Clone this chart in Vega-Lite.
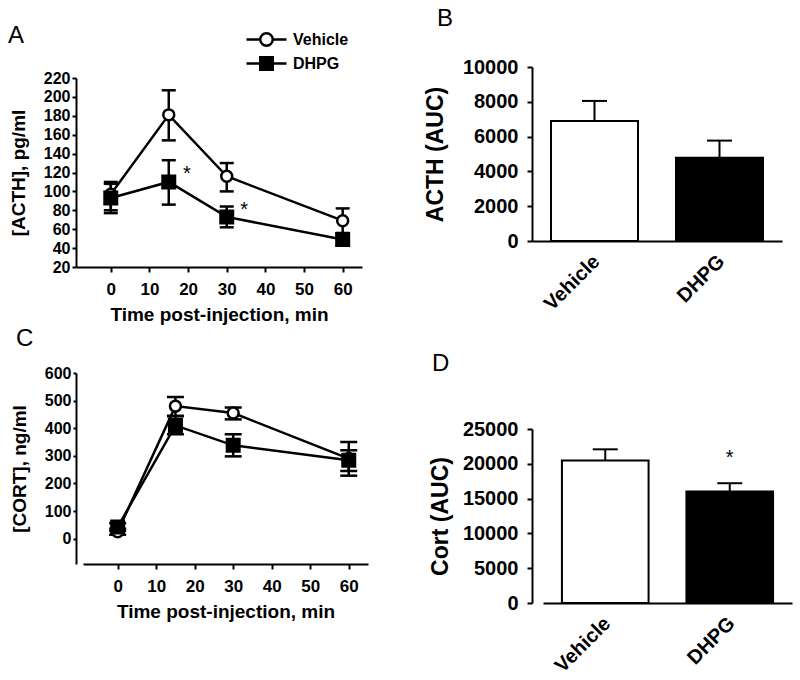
{
  "$schema": "https://vega.github.io/schema/vega-lite/v6.json",
  "autosize": {"type": "none"},
  "padding": {"left": 76, "top": 67, "right": 724, "bottom": 613},
  "background": "white",
  "columns": 2,
  "align": "none",
  "bounds": "flush",
  "spacing": {"row": 106, "column": 159},
  "datasets": {
    "acth": [
      {"group": "Vehicle", "time": 0, "mean": 97, "lo": 80, "hi": 110},
      {"group": "Vehicle", "time": 15, "mean": 181, "lo": 154, "hi": 207},
      {"group": "Vehicle", "time": 30, "mean": 116, "lo": 100, "hi": 130},
      {"group": "Vehicle", "time": 60, "mean": 69, "lo": 56, "hi": 82},
      {"group": "DHPG", "time": 0, "mean": 93, "lo": 77, "hi": 108},
      {"group": "DHPG", "time": 15, "mean": 110, "lo": 86, "hi": 133},
      {"group": "DHPG", "time": 30, "mean": 73, "lo": 62, "hi": 84},
      {"group": "DHPG", "time": 60, "mean": 49, "lo": 43, "hi": 55}
    ],
    "acthStars": [
      {"time": 19.7, "value": 124},
      {"time": 34.5, "value": 86}
    ],
    "cort": [
      {"group": "Vehicle", "time": 0, "mean": 25, "lo": 14, "hi": 36},
      {"group": "Vehicle", "time": 15, "mean": 480, "lo": 445, "hi": 513},
      {"group": "Vehicle", "time": 30, "mean": 455, "lo": 432, "hi": 475},
      {"group": "Vehicle", "time": 60, "mean": 290, "lo": 228, "hi": 350},
      {"group": "DHPG", "time": 0, "mean": 42, "lo": 28, "hi": 56},
      {"group": "DHPG", "time": 15, "mean": 410, "lo": 378, "hi": 443},
      {"group": "DHPG", "time": 30, "mean": 338, "lo": 298, "hi": 378},
      {"group": "DHPG", "time": 60, "mean": 284, "lo": 245, "hi": 320}
    ],
    "acthAuc": [
      {"group": "Vehicle", "auc": 6900, "upper": 8050},
      {"group": "DHPG", "auc": 4790, "upper": 5770}
    ],
    "cortAuc": [
      {"group": "Vehicle", "auc": 20460, "upper": 22080},
      {"group": "DHPG", "auc": 16010, "upper": 17210}
    ],
    "cortStars": [
      {"group": "DHPG", "value": 21600}
    ]
  },
  "concat": [
    {
      "width": 286,
      "height": 200,
      "title": {"text": "A", "dx": -68, "dy": -15},
      "encoding": {
        "x": {"field": "time", "type": "quantitative",
          "scale": {"domain": [-9, 65], "nice": false, "zero": false},
          "axis": {"values": [0, 10, 20, 30, 40, 50, 60], "tickCount": 30, "title": "Time post-injection, min", "labelOverlap": false,
            "labelFontSize": 17, "titleFontSize": 19, "tickSize": 5, "labelPadding": 9, "titlePadding": 8}}
      },
      "layer": [
        {
          "data": {"name": "acth"},
          "mark": {"type": "line", "color": "black", "strokeWidth": 2.5},
          "encoding": {
            "y": {"field": "mean", "type": "quantitative",
              "scale": {"domain": [20, 220], "nice": false, "zero": false, "range": [200, 11]},
              "axis": {"values": [20, 40, 60, 80, 100, 120, 140, 160, 180, 200, 220], "tickCount": 30, "title": "[ACTH], pg/ml", "labelOverlap": false,
                "labelFontSize": 16, "titleFontSize": 19, "tickSize": 4, "labelPadding": 2, "titlePadding": 15}},
            "detail": {"field": "group"}
          }
        },
        {
          "data": {"name": "acth"},
          "mark": {"type": "rule", "color": "black", "strokeWidth": 2.5},
          "encoding": {"y": {"field": "lo", "type": "quantitative"}, "y2": {"field": "hi"}}
        },
        {
          "data": {"name": "acth"},
          "mark": {"type": "tick", "orient": "horizontal", "color": "black", "size": 14, "thickness": 2.5, "opacity": 1},
          "encoding": {"y": {"field": "lo", "type": "quantitative"}}
        },
        {
          "data": {"name": "acth"},
          "mark": {"type": "tick", "orient": "horizontal", "color": "black", "size": 14, "thickness": 2.5, "opacity": 1},
          "encoding": {"y": {"field": "hi", "type": "quantitative"}}
        },
        {
          "data": {"name": "acth"},
          "transform": [{"filter": {"field": "group", "equal": "Vehicle"}}],
          "mark": {"type": "point", "shape": "circle", "size": 120, "fill": "white", "stroke": "black", "strokeWidth": 2.5, "opacity": 1},
          "encoding": {"y": {"field": "mean", "type": "quantitative"}}
        },
        {
          "data": {"name": "acth"},
          "transform": [{"filter": {"field": "group", "equal": "DHPG"}}],
          "mark": {"type": "point", "shape": "square", "size": 169, "fill": "black", "stroke": "black", "strokeWidth": 2, "opacity": 1},
          "encoding": {"y": {"field": "mean", "type": "quantitative"}}
        },
        {
          "data": {"name": "acthStars"},
          "mark": {"type": "text", "text": "*", "fontSize": 20, "font": "Liberation Sans", "baseline": "middle", "dy": 5, "color": "black"},
          "encoding": {"x": {"field": "time", "type": "quantitative"}, "y": {"field": "value", "type": "quantitative"}}
        },
        {
          "data": {"name": "acth"},
          "transform": [{"filter": {"field": "time", "lt": -100}}],
          "mark": {"type": "point", "strokeWidth": 2.5, "opacity": 1},
          "encoding": {
            "y": {"field": "mean", "type": "quantitative"},
            "shape": {"field": "group", "type": "nominal",
              "scale": {"domain": ["Vehicle", "DHPG"], "range": [
                "M-2,0H-0.625M0.625,0H2M-0.625,0A0.625,0.625,0,1,0,0.625,0A0.625,0.625,0,1,0,-0.625,0Z",
                "M-2,0H-0.625M0.625,0H2M-0.625,-0.625H0.625V0.625H-0.625Z"]},
              "legend": {"orient": "none", "legendX": 179, "legendY": -39, "title": null, "symbolSize": 400,
                "labelOffset": 15, "labelFontSize": 16, "labelFontWeight": "bold", "labelFont": "Liberation Sans",
                "labelColor": "black", "rowPadding": 1, "padding": 0, "symbolStrokeWidth": 2.5}},
            "fill": {"field": "group", "type": "nominal",
              "scale": {"domain": ["Vehicle", "DHPG"], "range": ["white", "black"]},
              "legend": {"orient": "none", "legendX": 179, "legendY": -39, "title": null, "symbolSize": 400,
                "labelOffset": 15, "labelFontSize": 16, "labelFontWeight": "bold", "labelFont": "Liberation Sans",
                "labelColor": "black", "rowPadding": 1, "padding": 0, "symbolStrokeWidth": 2.5}},
            "stroke": {"field": "group", "type": "nominal",
              "scale": {"domain": ["Vehicle", "DHPG"], "range": ["black", "black"]},
              "legend": {"orient": "none", "legendX": 179, "legendY": -39, "title": null, "symbolSize": 400,
                "labelOffset": 15, "labelFontSize": 16, "labelFontWeight": "bold", "labelFont": "Liberation Sans",
                "labelColor": "black", "rowPadding": 1, "padding": 0, "symbolStrokeWidth": 2.5}}
          }
        }
      ]
    },
    {
      "width": 250,
      "height": 174,
      "title": {"text": "B", "dx": -95, "dy": -22},
      "data": {"name": "acthAuc"},
      "encoding": {
        "x": {"field": "group", "type": "nominal", "sort": ["Vehicle", "DHPG"],
          "scale": {"paddingInner": 0.304, "paddingOuter": 0.152},
          "axis": {"title": null, "labelAngle": -45, "ticks": false, "tickSize": 0, "labelPadding": 10, "labelOffset": -5, "labelFontSize": 20}}
      },
      "layer": [
        {
          "mark": {"type": "rule", "color": "black", "strokeWidth": 2},
          "encoding": {
            "y": {"field": "auc", "type": "quantitative",
              "scale": {"domain": [0, 10000], "nice": false},
              "axis": {"values": [0, 2000, 4000, 6000, 8000, 10000], "tickCount": 30, "format": "d", "title": "ACTH (AUC)", "labelOverlap": false,
                "labelFontSize": 20, "titleFontSize": 23, "tickSize": 5, "labelPadding": 9, "titlePadding": 15}},
            "y2": {"field": "upper"}
          }
        },
        {
          "mark": {"type": "tick", "orient": "horizontal", "color": "black", "size": 25, "thickness": 2, "opacity": 1},
          "encoding": {"y": {"field": "upper", "type": "quantitative"}}
        },
        {
          "mark": {"type": "bar", "stroke": "black", "strokeWidth": 2, "opacity": 1},
          "encoding": {
            "y": {"field": "auc", "type": "quantitative"},
            "fill": {"field": "group", "type": "nominal", "scale": {"domain": ["Vehicle", "DHPG"], "range": ["white", "black"]}, "legend": null}
          }
        }
      ]
    },
    {
      "width": 297,
      "height": 191,
      "title": {"text": "C", "dx": -60, "dy": -10},
      "encoding": {
        "x": {"field": "time", "type": "quantitative",
          "scale": {"domain": [-9, 65], "nice": false, "zero": false, "range": [7, 292]},
          "axis": {"values": [0, 10, 20, 30, 40, 50, 60], "tickCount": 30, "title": "Time post-injection, min", "labelOverlap": false,
            "labelFontSize": 17, "titleFontSize": 19, "tickSize": 5, "labelPadding": 9, "titlePadding": 8}}
      },
      "layer": [
        {
          "data": {"name": "cort"},
          "mark": {"type": "line", "color": "black", "strokeWidth": 2.5},
          "encoding": {
            "y": {"field": "mean", "type": "quantitative",
              "scale": {"domain": [-92, 600], "nice": false, "zero": false},
              "axis": {"values": [0, 100, 200, 300, 400, 500, 600], "tickCount": 30, "title": "[CORT], ng/ml", "labelOverlap": false,
                "labelFontSize": 16, "titleFontSize": 19, "tickSize": 3, "labelPadding": 2, "titlePadding": 15}},
            "detail": {"field": "group"}
          }
        },
        {
          "data": {"name": "cort"},
          "mark": {"type": "rule", "color": "black", "strokeWidth": 2.5},
          "encoding": {"y": {"field": "lo", "type": "quantitative"}, "y2": {"field": "hi"}}
        },
        {
          "data": {"name": "cort"},
          "mark": {"type": "tick", "orient": "horizontal", "color": "black", "size": 17, "thickness": 2.5, "opacity": 1},
          "encoding": {"y": {"field": "lo", "type": "quantitative"}}
        },
        {
          "data": {"name": "cort"},
          "mark": {"type": "tick", "orient": "horizontal", "color": "black", "size": 17, "thickness": 2.5, "opacity": 1},
          "encoding": {"y": {"field": "hi", "type": "quantitative"}}
        },
        {
          "data": {"name": "cort"},
          "transform": [{"filter": {"field": "group", "equal": "Vehicle"}}],
          "mark": {"type": "point", "shape": "circle", "size": 120, "fill": "white", "stroke": "black", "strokeWidth": 2.5, "opacity": 1},
          "encoding": {"y": {"field": "mean", "type": "quantitative"}}
        },
        {
          "data": {"name": "cort"},
          "transform": [{"filter": {"field": "group", "equal": "DHPG"}}],
          "mark": {"type": "point", "shape": "square", "size": 169, "fill": "black", "stroke": "black", "strokeWidth": 2, "opacity": 1},
          "encoding": {"y": {"field": "mean", "type": "quantitative"}}
        }
      ]
    },
    {
      "width": 260,
      "height": 230,
      "title": {"text": "D", "dx": -100, "dy": 7},
      "encoding": {
        "x": {"field": "group", "type": "nominal", "sort": ["Vehicle", "DHPG"],
          "scale": {"paddingInner": 0.304, "paddingOuter": 0.152, "range": [11, 260]},
          "axis": {"title": null, "labelAngle": -45, "ticks": false, "tickSize": 0, "labelPadding": 10, "labelOffset": -5, "labelFontSize": 20}}
      },
      "layer": [
        {
          "data": {"name": "cortAuc"},
          "mark": {"type": "rule", "color": "black", "strokeWidth": 2},
          "encoding": {
            "y": {"field": "auc", "type": "quantitative",
              "scale": {"domain": [0, 25000], "nice": false, "range": [230, 56]},
              "axis": {"values": [0, 5000, 10000, 15000, 20000, 25000], "tickCount": 30, "format": "d", "title": "Cort (AUC)", "labelOverlap": false,
                "labelFontSize": 20, "titleFontSize": 23, "tickSize": 5, "labelPadding": 9, "titlePadding": 10}},
            "y2": {"field": "upper"}
          }
        },
        {
          "data": {"name": "cortAuc"},
          "mark": {"type": "tick", "orient": "horizontal", "color": "black", "size": 25, "thickness": 2, "opacity": 1},
          "encoding": {"y": {"field": "upper", "type": "quantitative"}}
        },
        {
          "data": {"name": "cortAuc"},
          "mark": {"type": "bar", "stroke": "black", "strokeWidth": 2, "opacity": 1},
          "encoding": {
            "y": {"field": "auc", "type": "quantitative"},
            "fill": {"field": "group", "type": "nominal", "scale": {"domain": ["Vehicle", "DHPG"], "range": ["white", "black"]}, "legend": null}
          }
        },
        {
          "data": {"name": "cortStars"},
          "mark": {"type": "text", "text": "*", "fontSize": 20, "font": "Liberation Sans", "baseline": "middle", "dy": 5, "color": "black"},
          "encoding": {"y": {"field": "value", "type": "quantitative"}}
        }
      ]
    }
  ],
  "config": {
    "font": "Liberation Sans",
    "view": {"stroke": null},
    "axis": {
      "domainColor": "black", "domainWidth": 2, "tickColor": "black", "tickWidth": 2,
      "labelColor": "black", "labelFontWeight": "bold", "labelFont": "Liberation Sans",
      "titleColor": "black", "titleFontWeight": "bold", "titleFont": "Liberation Sans",
      "grid": false, "labelOverlap": false, "labelFlush": false
    },
    "title": {"font": "Liberation Sans", "fontWeight": "normal", "fontSize": 24, "anchor": "start", "frame": "group", "color": "black", "baseline": "alphabetic"}
  }
}
